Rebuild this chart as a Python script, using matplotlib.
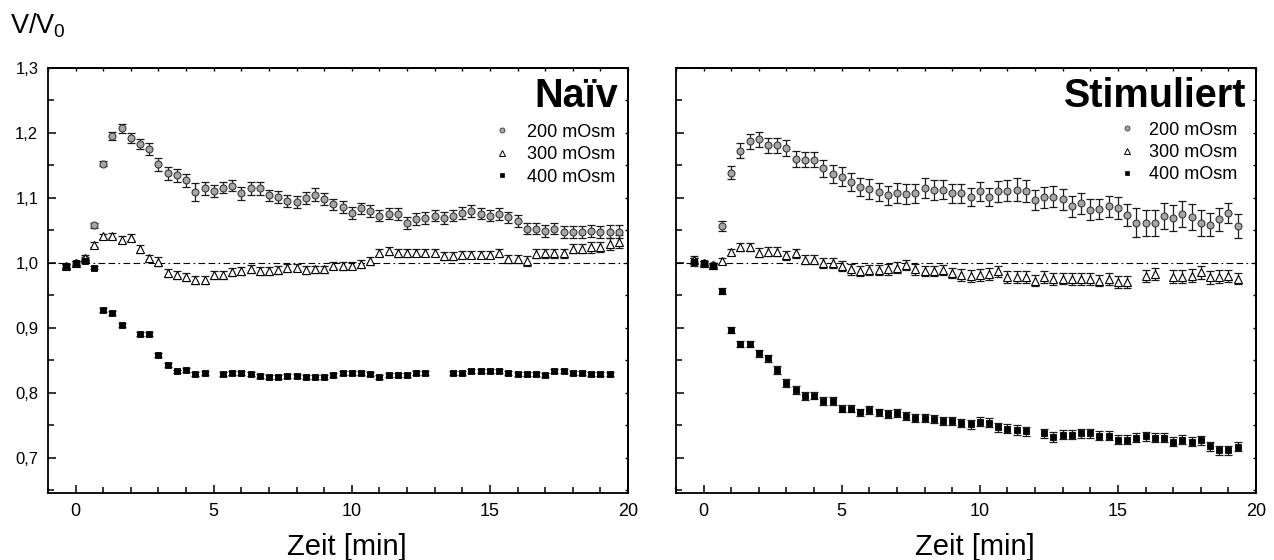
import numpy as np
import matplotlib
matplotlib.use("Agg")
import matplotlib.pyplot as plt
from matplotlib.lines import Line2D
from matplotlib.ticker import MultipleLocator, FixedLocator, FixedFormatter, NullFormatter

plt.rcParams['font.family'] = ['Liberation Sans', 'DejaVu Sans']
plt.rcParams['mathtext.fontset'] = 'custom'
plt.rcParams['mathtext.rm'] = 'Liberation Sans'
plt.rcParams['mathtext.it'] = 'Liberation Sans'

nan = np.nan

# Sampling: one image every 20 s, starting 20 s before the medium change
sample_step_min = 1.0 / 3.0
time_naive = np.arange(-1, 60) * sample_step_min      # 61 samples
time_stim = np.arange(-1, 59) * sample_step_min       # 60 samples

labels = ['200 mOsm', '300 mOsm', '400 mOsm']
y_tick_values = [0.7, 0.8, 0.9, 1.0, 1.1, 1.2, 1.3]
y_tick_labels = ['0,7', '0,8', '0,9', '1,0', '1,1', '1,2', '1,3']
x_tick_values = [0, 5, 10, 15, 20]

# ---- Naive cells ----
naive_200 = [0.996, 1.000, 1.006, 1.058, 1.153, 1.195, 1.207, 1.192, 1.183, 1.175,
             1.152, 1.138, 1.135, 1.127, 1.109, 1.115, 1.111, 1.116, 1.119, 1.107,
             1.115, 1.115, 1.104, 1.102, 1.095, 1.094, 1.100, 1.105, 1.098, 1.090,
             1.086, 1.077, 1.084, 1.080, 1.073, 1.076, 1.075, 1.062, 1.068, 1.069,
             1.073, 1.069, 1.073, 1.077, 1.080, 1.076, 1.073, 1.075, 1.070, 1.065,
             1.053, 1.053, 1.049, 1.053, 1.048, 1.048, 1.048, 1.049, 1.048, 1.048,
             1.048]
naive_200_err = [0.003, 0.003, 0.003, 0.004, 0.004, 0.006, 0.007, 0.008, 0.008, 0.009,
                 0.010, 0.010, 0.010, 0.010, 0.014, 0.010, 0.009, 0.009, 0.009, 0.010,
                 0.010, 0.010, 0.009, 0.009, 0.009, 0.009, 0.009, 0.010, 0.009, 0.009,
                 0.009, 0.009, 0.009, 0.009, 0.009, 0.009, 0.009, 0.009, 0.009, 0.009,
                 0.009, 0.009, 0.009, 0.009, 0.009, 0.009, 0.009, 0.009, 0.009, 0.009,
                 0.009, 0.009, 0.009, 0.009, 0.009, 0.009, 0.009, 0.009, 0.009, 0.010,
                 0.010]
naive_300 = [0.996, 1.000, 1.008, 1.028, 1.041, 1.042, 1.036, 1.039, 1.021, 1.007,
             1.002, 0.984, 0.982, 0.978, 0.974, 0.974, 0.982, 0.982, 0.986, 0.988,
             0.991, 0.988, 0.988, 0.989, 0.992, 0.993, 0.989, 0.990, 0.990, 0.996,
             0.995, 0.996, 0.998, 1.003, 1.016, 1.019, 1.015, 1.015, 1.016, 1.016,
             1.016, 1.011, 1.011, 1.013, 1.013, 1.013, 1.013, 1.015, 1.006, 1.006,
             1.003, 1.014, 1.015, 1.015, 1.015, 1.022, 1.022, 1.024, 1.025, 1.029,
             1.033]
naive_300_err = [0.003, 0.003, 0.004, 0.004, 0.004, 0.004, 0.005, 0.005, 0.006, 0.006,
                 0.007, 0.006, 0.006, 0.006, 0.006, 0.006, 0.006, 0.006, 0.006, 0.006,
                 0.006, 0.006, 0.006, 0.006, 0.006, 0.006, 0.006, 0.006, 0.006, 0.006,
                 0.006, 0.006, 0.006, 0.006, 0.006, 0.006, 0.006, 0.006, 0.006, 0.006,
                 0.006, 0.006, 0.006, 0.006, 0.006, 0.006, 0.006, 0.006, 0.006, 0.006,
                 0.007, 0.007, 0.007, 0.007, 0.007, 0.007, 0.007, 0.008, 0.008, 0.009,
                 0.010]
naive_400 = [0.995, 1.000, 1.003, 0.993, 0.928, 0.923, 0.905, nan, 0.891, 0.891,
             0.858, 0.843, 0.833, 0.835, 0.829, 0.830, nan, 0.829, 0.830, 0.830,
             0.829, 0.826, 0.825, 0.825, 0.826, 0.826, 0.825, 0.825, 0.825, 0.828,
             0.830, 0.830, 0.830, 0.829, 0.825, 0.828, 0.828, 0.828, 0.831, 0.831,
             nan, nan, 0.831, 0.831, 0.834, 0.834, 0.834, 0.834, 0.831, 0.829,
             0.829, 0.829, 0.828, 0.834, 0.834, 0.830, 0.831, 0.829, 0.829, 0.829,
             nan]
naive_400_err = [0.003] * 61

# ---- Stimulated cells ----
stim_200 = [1.003, 1.000, 0.997, 1.057, 1.139, 1.173, 1.187, 1.190, 1.181, 1.181,
            1.177, 1.160, 1.159, 1.159, 1.146, 1.137, 1.133, 1.125, 1.117, 1.114,
            1.109, 1.104, 1.108, 1.106, 1.107, 1.115, 1.112, 1.113, 1.107, 1.107,
            1.102, 1.110, 1.102, 1.110, 1.111, 1.113, 1.111, 1.097, 1.101, 1.102,
            1.098, 1.087, 1.092, 1.082, 1.083, 1.087, 1.084, 1.074, 1.062, 1.061,
            1.061, 1.072, 1.069, 1.075, 1.071, 1.062, 1.059, 1.067, 1.077, 1.057]
stim_200_err = [0.004, 0.003, 0.003, 0.008, 0.010, 0.011, 0.012, 0.012, 0.012, 0.012,
                0.012, 0.012, 0.012, 0.012, 0.013, 0.014, 0.014, 0.014, 0.014, 0.015,
                0.014, 0.015, 0.015, 0.015, 0.015, 0.015, 0.015, 0.015, 0.015, 0.014,
                0.014, 0.015, 0.014, 0.016, 0.016, 0.017, 0.017, 0.016, 0.016, 0.016,
                0.016, 0.016, 0.016, 0.016, 0.016, 0.016, 0.017, 0.017, 0.022, 0.020,
                0.020, 0.020, 0.020, 0.020, 0.020, 0.020, 0.018, 0.018, 0.016, 0.019]
stim_300 = [1.005, 1.000, 0.997, 1.003, 1.017, 1.024, 1.024, 1.016, 1.017, 1.017,
            1.012, 1.015, 1.005, 1.005, 1.000, 1.000, 0.995, 0.990, 0.988, 0.989,
            0.989, 0.990, 0.993, 0.997, 0.990, 0.988, 0.988, 0.989, 0.985, 0.982,
            0.980, 0.982, 0.983, 0.987, 0.978, 0.978, 0.978, 0.973, 0.978, 0.975,
            0.976, 0.975, 0.975, 0.975, 0.973, 0.975, 0.971, 0.971, nan, 0.980,
            0.983, nan, 0.979, 0.979, 0.980, 0.986, 0.978, 0.979, 0.980, 0.976]
stim_300_err = [0.005, 0.003, 0.003, 0.004, 0.005, 0.006, 0.006, 0.007, 0.007, 0.007,
                0.007, 0.007, 0.007, 0.007, 0.007, 0.007, 0.008, 0.008, 0.008, 0.008,
                0.008, 0.008, 0.008, 0.008, 0.008, 0.008, 0.008, 0.008, 0.008, 0.009,
                0.009, 0.009, 0.009, 0.009, 0.009, 0.009, 0.009, 0.009, 0.009, 0.009,
                0.009, 0.009, 0.009, 0.009, 0.009, 0.009, 0.009, 0.009, 0.009, 0.009,
                0.009, 0.009, 0.010, 0.010, 0.010, 0.010, 0.010, 0.010, 0.009, 0.009]
stim_400 = [1.002, 1.000, 0.995, 0.957, 0.897, 0.875, 0.875, 0.861, 0.853, 0.835,
            0.815, 0.805, 0.795, 0.796, 0.788, 0.788, 0.776, 0.776, 0.770, 0.774,
            0.770, 0.767, 0.769, 0.765, 0.761, 0.761, 0.760, 0.757, 0.757, 0.754,
            0.752, 0.756, 0.754, 0.747, 0.745, 0.743, 0.741, nan, 0.738, 0.732,
            0.736, 0.736, 0.738, 0.738, 0.734, 0.734, 0.728, 0.728, 0.731, 0.733,
            0.731, 0.731, 0.725, 0.728, 0.725, 0.727, 0.718, 0.712, 0.712, 0.717]
stim_400_err = [0.006, 0.003, 0.004, 0.005, 0.005, 0.005, 0.005, 0.005, 0.006, 0.006,
                0.006, 0.006, 0.006, 0.006, 0.006, 0.006, 0.006, 0.006, 0.006, 0.006,
                0.006, 0.006, 0.006, 0.006, 0.006, 0.006, 0.006, 0.006, 0.006, 0.006,
                0.007, 0.007, 0.007, 0.007, 0.007, 0.007, 0.007, 0.007, 0.007, 0.008,
                0.007, 0.007, 0.007, 0.007, 0.007, 0.007, 0.007, 0.007, 0.007, 0.007,
                0.007, 0.007, 0.007, 0.007, 0.007, 0.007, 0.007, 0.007, 0.007, 0.007]

GRAY = '#a6a6a6'
ERR = '#1a1a1a'

styles = [
    dict(marker='o', ms=5.0, mfc=GRAY, mec='#3a3a3a', mew=0.8),
    dict(marker='^', ms=5.8, mfc='white', mec='black', mew=0.8),
    dict(marker='s', ms=4.8, mfc='black', mec='black', mew=0.6),
]
legend_styles = [
    dict(marker='o', ms=3.6, mfc=GRAY, mec='#3a3a3a', mew=0.6),
    dict(marker='^', ms=4.0, mfc='white', mec='black', mew=0.7),
    dict(marker='s', ms=3.4, mfc='black', mec='black', mew=0.5),
]

fig = plt.figure(figsize=(12.74, 5.6), dpi=100)
W, H = 1274.0, 560.0
ax_l = fig.add_axes([48 / W, 67 / H, 580 / W, 425 / H])
ax_r = fig.add_axes([676 / W, 67 / H, 580 / W, 425 / H])


def draw_panel(ax, t, series, errs, title, show_ylabels, leg_anchor, text_pad):
    ax.axhline(1.0, color='black', lw=0.8, ls=(0, (6, 3, 6, 3, 1.5, 3)), zorder=1)
    for y, e, st in zip(series, errs, styles):
        y = np.asarray(y, dtype=float)
        e = np.asarray(e, dtype=float)
        ax.errorbar(t, y, yerr=e, fmt='none', ecolor=ERR, elinewidth=0.9,
                    capsize=2.6, capthick=0.9, zorder=2)
        ax.plot(t, y, ls='none', zorder=3, **st)

    ax.set_xlim(-1, 20)
    ax.set_ylim(0.646, 1.3)
    ax.xaxis.set_major_locator(FixedLocator(x_tick_values))
    ax.xaxis.set_minor_locator(MultipleLocator(1))
    ax.yaxis.set_major_locator(FixedLocator(y_tick_values))
    ax.yaxis.set_major_formatter(FixedFormatter(y_tick_labels))
    ax.yaxis.set_minor_locator(MultipleLocator(0.05))

    ax.tick_params(axis='both', which='both', direction='in', width=1.1,
                   top=False, right=False, colors='black')
    ax.tick_params(axis='x', which='major', length=6, pad=7, labelsize=13)
    ax.tick_params(axis='x', which='minor', length=4)
    ax.tick_params(axis='y', which='major', length=6, pad=7, labelsize=12,
                   labelleft=show_ylabels)
    ax.tick_params(axis='y', which='minor', length=4)
    for sp in ax.spines.values():
        sp.set_linewidth(1.3)

    # short ticks along the top and right frame edges
    top = ax.secondary_xaxis('top')
    top.xaxis.set_major_locator(MultipleLocator(1))
    top.xaxis.set_major_formatter(NullFormatter())
    top.tick_params(axis='x', direction='in', length=2.5, width=1.0)
    top.spines['top'].set_linewidth(1.3)
    right = ax.secondary_yaxis('right')
    right.yaxis.set_major_locator(MultipleLocator(0.05))
    right.yaxis.set_major_formatter(NullFormatter())
    right.tick_params(axis='y', direction='in', length=2.5, width=1.0)
    right.spines['right'].set_linewidth(1.3)

    ax.set_xlabel('Zeit [min]', fontsize=21)
    ax.xaxis.set_label_coords(0.515, -0.095)

    ax.text(0.983, 0.908, title, transform=ax.transAxes, ha='right',
            va='baseline', fontsize=28.5, fontweight='bold')

    handles = [Line2D([], [], ls='none', **st) for st in legend_styles]
    ax.legend(handles, labels, loc='upper right', bbox_to_anchor=leg_anchor,
              frameon=False, fontsize=13, handlelength=1.0,
              handletextpad=text_pad, labelspacing=0.3, borderpad=0,
              borderaxespad=0)


draw_panel(ax_l, time_naive, [naive_200, naive_300, naive_400],
           [naive_200_err, naive_300_err, naive_400_err],
           'Naïv', True, (0.978, 0.869), 0.9)
draw_panel(ax_r, time_stim, [stim_200, stim_300, stim_400],
           [stim_200_err, stim_300_err, stim_400_err],
           'Stimuliert', False, (0.967, 0.874), 0.67)

fig.text(10 / W, 1 - 33 / H, r'V/V$_0$', fontsize=19.5, ha='left', va='baseline')

fig.savefig('out.png', dpi=100)
